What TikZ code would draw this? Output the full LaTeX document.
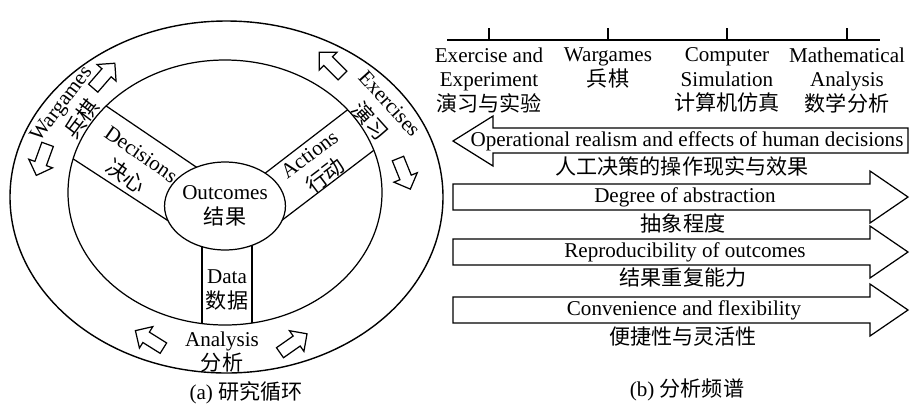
\documentclass[tikz,border=0pt]{standalone}
\usepackage{fontspec}
\setmainfont{Liberation Serif}
\newfontfamily\cjk{Noto Sans CJK SC}
\usetikzlibrary{shapes.geometric,shapes.arrows,positioning}

\tikzset{
  ringarrow/.style={single arrow, draw, line width=0.7pt, minimum height=0.66cm,
    inner sep=0.11cm, single arrow head extend=0.13cm},
  txt/.style={align=center, inner sep=0pt},
  bigarrow/.style={line width=0.7pt}
}

\begin{document}
\begin{tikzpicture}[x=0.02cm, y=-0.02cm, line width=0.7pt,
  font=\fontsize{12}{14}\selectfont]
\clip (0,0) rectangle (910,410);
% research cycle
\draw[line width=0.8pt] (226.5,197) ellipse (216.5 and 176);
\begin{scope}
\clip (225,192.5) ellipse (157 and 132.5);
\draw (90,95) -- (205,173);
\draw (58,149) -- (190,235);
\draw (359,101) -- (255,181);
\draw (386,141) -- (260,237);
\draw (202,230) -- (202,340);
\draw (252,230) -- (252,340);
\end{scope}
\draw (225,192.5) ellipse (157 and 132.5);
\node (outcomes) [draw, ellipse, fill=white, minimum width=2cm, minimum height=1.76cm,
  inner sep=0pt, align=center] at (225,206) {Outcomes\\{\cjk 结果}};
\node (decisions) [txt, rotate=-35] at (133,166) {Decisions\\[1.5pt]{\cjk 决心}};
\node (actions) [txt, rotate=37] at (318,166) {Actions\\[1.5pt]{\cjk 行动}};
\node (data) [txt] at (227,290) {Data\\{\cjk 数据}};
\node (wargames) [txt, rotate=53] at (72,112) {Wargames\\[1.5pt]{\cjk 兵棋}};
\node (exercises) [txt, rotate=-48] at (379,113) {Exercises\\[1.5pt]{\cjk 演习}};
\node (analysis) [txt] at (222,352) {Analysis\\{\cjk 分析}};
\node (wa1) [ringarrow, rotate=49] at (102,78) {};
\node (wa2) [ringarrow, rotate=250] at (43,157) {};
\node (ex1) [ringarrow, rotate=135] at (333,66) {};
\node (ex2) [ringarrow, rotate=292] at (403,171) {};
\node (an1) [ringarrow, rotate=148] at (152,341) {};
\node (an2) [ringarrow, rotate=35] at (291,345) {};
\node (capa) at (246,393) {(a) {\cjk 研究循环}};
% analysis spectrum
\draw (447,40) -- (880,40);
\foreach \x/\n in {489/tk1, 608/tk2, 727/tk3, 847/tk4}
  \draw (\x,28) -- (\x,40) coordinate (\n);
\node (exper) [txt, below=4pt of tk1] {Exercise and\\Experiment\\{\cjk 演习与实验}};
\node (wargm) [txt, below=4pt of tk2] {Wargames\\{\cjk 兵棋}};
\node (compsim) [txt, below=4pt of tk3] {Computer\\Simulation\\{\cjk 计算机仿真}};
\node (mathan) [txt, below=4pt of tk4] {Mathematical\\Analysis\\{\cjk 数学分析}};
\draw[bigarrow] (908,128) -- (493,128) -- (493,116) -- (453,141) -- (493,166)
  -- (493,153) -- (908,153) -- cycle;
\foreach \yc in {197,252,310}
  \draw[bigarrow] (453,\yc-13) -- (870,\yc-13) -- (870,\yc-26) -- (908,\yc)
    -- (870,\yc+26) -- (870,\yc+13) -- (453,\yc+13) -- cycle;
\node (realism) at (687,141) {Operational realism and effects of human decisions};
\node (realismzh) at (682,166) {\cjk 人工决策的操作现实与效果};
\node (abstr) at (685,197) {Degree of abstraction};
\node (abstrzh) at (683,223) {\cjk 抽象程度};
\node (repro) at (685,252) {Reproducibility of outcomes};
\node (reprozh) at (683,278) {\cjk 结果重复能力};
\node (conv) at (684,310) {Convenience and flexibility};
\node (convzh) at (683,337) {\cjk 便捷性与灵活性};
\node (capb) at (687,390) {(b) {\cjk 分析频谱}};
\end{tikzpicture}
\end{document}
